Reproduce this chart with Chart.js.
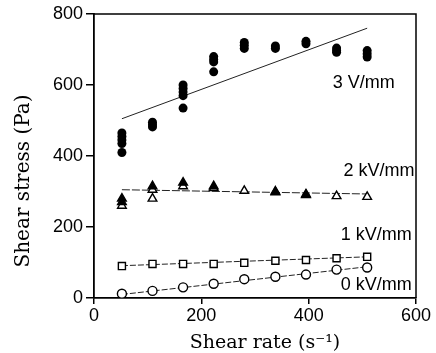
<!DOCTYPE html>
<html>
<head>
<meta charset="utf-8">
<script src="https://cdn.jsdelivr.net/npm/chart.js@4/dist/chart.umd.min.js"></script>
<style>
  html, body { margin: 0; padding: 0; background: #fff; }
  #wrap { width: 436px; height: 353px; }
</style>
</head>
<body>
<div id="wrap"><canvas id="c" width="436" height="353"></canvas></div>
<script>
// ---- data ----
const shearRate = [52, 109, 166, 223, 280, 338, 395, 452, 509];
const xTicks = [0, 200, 400, 600];
const yTicks = [0, 200, 400, 600, 800];

// 3 kV/mm: several repeated runs per shear rate (filled circles)
const stress3kV = [
  [465, 455, 445, 435, 410],
  [495, 488, 482],
  [600, 590, 580, 570, 535],
  [680, 672, 665, 637],
  [720, 712, 703],
  [710, 703],
  [723, 716],
  [704, 697, 692],
  [697, 688, 679]
];
// 2 kV/mm: filled and open triangles
const stress2kVFilled = [[280, 270], [315], [325], [315], [], [298], [290], [], []];
const stress2kVOpen = [[260], [305, 280], [315], [310], [302], [300], [292], [287], [285]];
// 1 kV/mm (open squares) and 0 kV/mm (open circles)
const stress1kV = [90, 96, 96, 96, 99, 105, 107, 112, 116];
const stress0kV = [12, 20, 30, 40, 53, 60, 66, 80, 86];

// fitted lines (end points)
const fitX = [52, 509];
const fit3kV = [505, 760];
const fit2kV = [305, 293];
const fit1kV = [91, 116];
const fit0kV = [10, 88];

const seriesLabels = ['3 V/mm', '2 kV/mm', '1 kV/mm', '0 kV/mm'];
const xTitle = 'Shear rate (s\u207B\u00B9)';
const yTitle = 'Shear stress (Pa)';

// ---- build library data ----
function groups(arr) {
  const pts = [];
  arr.forEach((g, i) => g.forEach(v => pts.push({x: shearRate[i], y: v})));
  return pts;
}
function series(arr) { return arr.map((v, i) => ({x: shearRate[i], y: v})); }
function line(arr) { return arr.map((v, i) => ({x: fitX[i], y: v})); }

const lineStyle = {showLine: true, pointRadius: 0, borderColor: '#222', borderWidth: 1, fill: false, order: 2};

// label anchor positions in data units (left/right aligned text)
const labelAnchors = [
  {x: 445, y: 606, align: 'left'},
  {x: 597, y: 358, align: 'right'},
  {x: 592, y: 177, align: 'right'},
  {x: 592, y: 37, align: 'right'}
];

const annotate = {
  id: 'annotate',
  afterDatasetsDraw(chart) {
    const {ctx, chartArea: a, scales: {x, y}} = chart;
    ctx.save();
    // frame box
    ctx.strokeStyle = '#000';
    ctx.lineWidth = 1.5;
    ctx.beginPath();
    ctx.moveTo(a.left, a.top);
    ctx.lineTo(a.right, a.top);
    ctx.lineTo(a.right, a.bottom);
    ctx.stroke();
    // series labels
    ctx.fillStyle = '#000';
    ctx.font = '18px "Liberation Sans", Arial, sans-serif';
    ctx.textBaseline = 'middle';
    seriesLabels.forEach((t, i) => {
      const p = labelAnchors[i];
      ctx.textAlign = p.align;
      ctx.fillText(t, x.getPixelForValue(p.x), y.getPixelForValue(p.y));
    });
    // axis titles
    ctx.font = '19px "DejaVu Serif", serif';
    ctx.textAlign = 'center';
    ctx.fillText(xTitle, 265, 343);
    ctx.save();
    ctx.translate(24, 181);
    ctx.rotate(-Math.PI / 2);
    ctx.font = '20px "DejaVu Serif", serif';
    ctx.fillText(yTitle, 0, 0);
    ctx.restore();
    ctx.restore();
  }
};

new Chart(document.getElementById('c'), {
  type: 'scatter',
  data: {
    datasets: [
      Object.assign({label: 'fit 3', data: line(fit3kV)}, lineStyle),
      Object.assign({label: 'fit 2', data: line(fit2kV)}, lineStyle, {borderDash: [8, 2]}),
      Object.assign({label: 'fit 1', data: line(fit1kV)}, lineStyle, {borderDash: [6, 2]}),
      Object.assign({label: 'fit 0', data: line(fit0kV)}, lineStyle, {borderDash: [6, 2]}),
      {label: seriesLabels[0], data: groups(stress3kV), pointStyle: 'circle', pointRadius: 4.5,
       backgroundColor: '#000', borderColor: '#000', borderWidth: 0, order: 1},
      {label: seriesLabels[1] + ' a', data: groups(stress2kVOpen), pointStyle: 'triangle', pointRadius: 5,
       backgroundColor: '#fff', borderColor: '#000', borderWidth: 1.4, order: 1},
      {label: seriesLabels[1] + ' b', data: groups(stress2kVFilled), pointStyle: 'triangle', pointRadius: 5,
       backgroundColor: '#000', borderColor: '#000', borderWidth: 1.4, order: 0},
      {label: seriesLabels[2], data: series(stress1kV), pointStyle: 'rect', pointRadius: 5,
       backgroundColor: '#fff', borderColor: '#000', borderWidth: 1.4, order: 1},
      {label: seriesLabels[3], data: series(stress0kV), pointStyle: 'circle', pointRadius: 4.5,
       backgroundColor: '#fff', borderColor: '#000', borderWidth: 1.4, order: 1}
    ]
  },
  options: {
    responsive: false,
    animation: false,
    events: [],
    layout: {padding: {left: 0, right: 20, top: 14, bottom: 0}},
    plugins: {legend: {display: false}, tooltip: {enabled: false}},
    scales: {
      x: {
        type: 'linear', min: 0, max: 600,
        afterBuildTicks: s => { s.ticks = xTicks.map(v => ({value: v})); },
        afterFit: s => { s.height = 55; },
        grid: {display: true, drawOnChartArea: false, drawTicks: true, tickLength: 6, color: '#000', lineWidth: 1.5},
        border: {display: true, color: '#000', width: 1.8},
        ticks: {color: '#000', padding: 1, font: {family: '"Liberation Sans", Arial, sans-serif', size: 18}, maxRotation: 0},
        title: {display: false}
      },
      y: {
        type: 'linear', min: 0, max: 800,
        afterBuildTicks: s => { s.ticks = yTicks.map(v => ({value: v})); },
        afterFit: s => { s.width = 94; },
        grid: {display: true, drawOnChartArea: false, drawTicks: true, tickLength: 8, color: '#000', lineWidth: 1.5},
        border: {display: true, color: '#000', width: 1.8},
        ticks: {color: '#000', padding: 3, font: {family: '"Liberation Sans", Arial, sans-serif', size: 18}},
        title: {display: false}
      }
    }
  },
  plugins: [annotate]
});
</script>
</body>
</html>
